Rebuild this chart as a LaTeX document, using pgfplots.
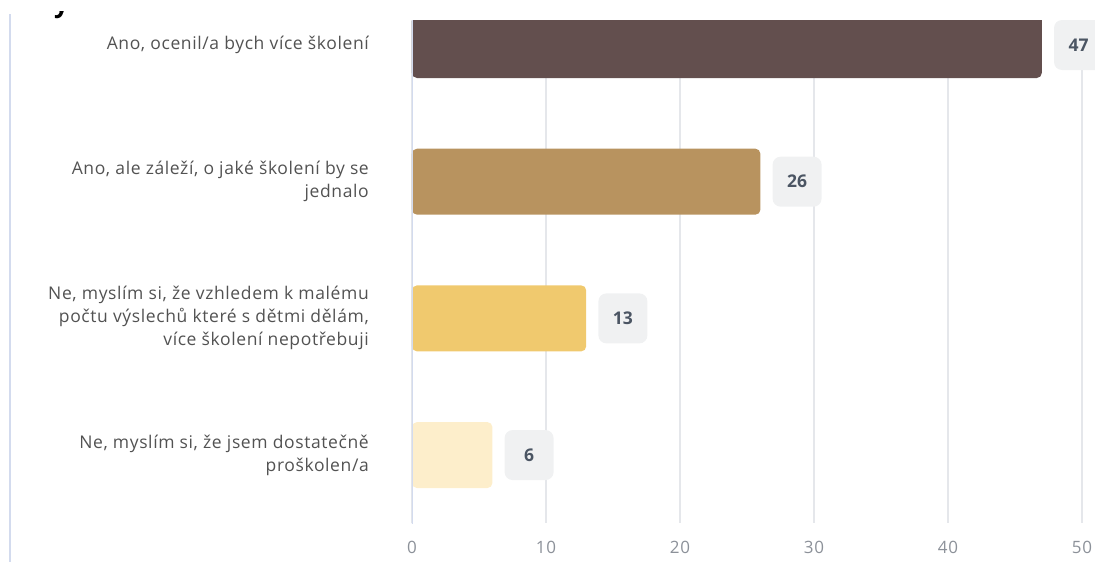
\documentclass[border=0pt]{standalone}
\usepackage{fontspec}
\setmainfont{Open Sans}
\newfontfamily\labelfont{Open Sans}[LetterSpace=3.5]
\usepackage{pgfplots}
\pgfplotsset{compat=1.18}

\definecolor{barA}{HTML}{634F4E}
\definecolor{barB}{HTML}{B8935F}
\definecolor{barC}{HTML}{F0C96E}
\definecolor{barD}{HTML}{FDEECB}
\definecolor{gridc}{HTML}{E5E7EB}
\definecolor{axisc}{HTML}{D3DBEE}
\definecolor{labelc}{HTML}{525252}
\definecolor{tickc}{HTML}{8C9199}
\definecolor{boxc}{HTML}{F0F1F2}
\definecolor{numc}{HTML}{4B5563}

\begin{document}
\begin{tikzpicture}
\useasboundingbox (0,0) rectangle (1095pt,562pt);
% left frame line of the cropped page
\draw[axisc, line width=2.5pt] (10pt,0pt) -- (10pt,548pt);
% tail of a cropped title letter
\begin{scope}
  \clip (40pt,541pt) rectangle (95pt,550pt);
  \node[font=\bfseries\fontsize{26}{26}\selectfont, anchor=base west, inner sep=0pt] at (54pt,549pt) {y};
\end{scope}
\begin{axis}[
    at={(412pt,39pt)}, anchor=south west,
    scale only axis,
    width=670pt, height=502pt,
    xbar, bar width=66pt, bar shift=0pt,
    xmin=0, xmax=50,
    ymin=-0.1756, ymax=3.497,
    y dir=reverse,
    xtick={0,10,20,30,40,50},
    ytick={0,1,2,3},
    yticklabels={
      {Ano, ocenil/a bych více školení},
      {Ano, ale záleží, o jaké školení by se\\jednalo},
      {Ne, myslím si, že vzhledem k malému\\počtu výslechů které s dětmi dělám,\\více školení nepotřebuji},
      {Ne, myslím si, že jsem dostatečně\\proškolen/a}},
    major tick length=0pt,
    axis line style={draw=none},
    xmajorgrids,
    grid style={gridc, line width=1.5pt},
    /pgf/number format/assume math mode=true,
    xticklabel style={font=\labelfont\fontsize{17}{20}\selectfont, text=tickc, inner sep=0pt, yshift=-18pt},
    yticklabel style={font=\labelfont\fontsize{17.5}{23}\selectfont, text=labelc, align=right, anchor=east, inner sep=0pt, xshift=-43pt},
    nodes near coords,
    point meta=x,
    every node near coord/.append style={anchor=west, xshift=12pt, fill=boxc, rounded corners=8pt,
        minimum width=49pt, minimum height=50pt, inner sep=0pt,
        font=\bfseries\fontsize{17.5}{20}\selectfont, text=numc},
]
\addplot[fill=barA, draw=none, rounded corners=5pt] coordinates {(47,0)};
\addplot[fill=barB, draw=none, rounded corners=5pt] coordinates {(26,1)};
\addplot[fill=barC, draw=none, rounded corners=5pt] coordinates {(13,2)};
\addplot[fill=barD, draw=none, rounded corners=5pt] coordinates {(6,3)};
\draw[axisc, line width=2pt] (axis cs:0,-0.2) -- (axis cs:0,3.6);
\end{axis}
\end{tikzpicture}
\end{document}
